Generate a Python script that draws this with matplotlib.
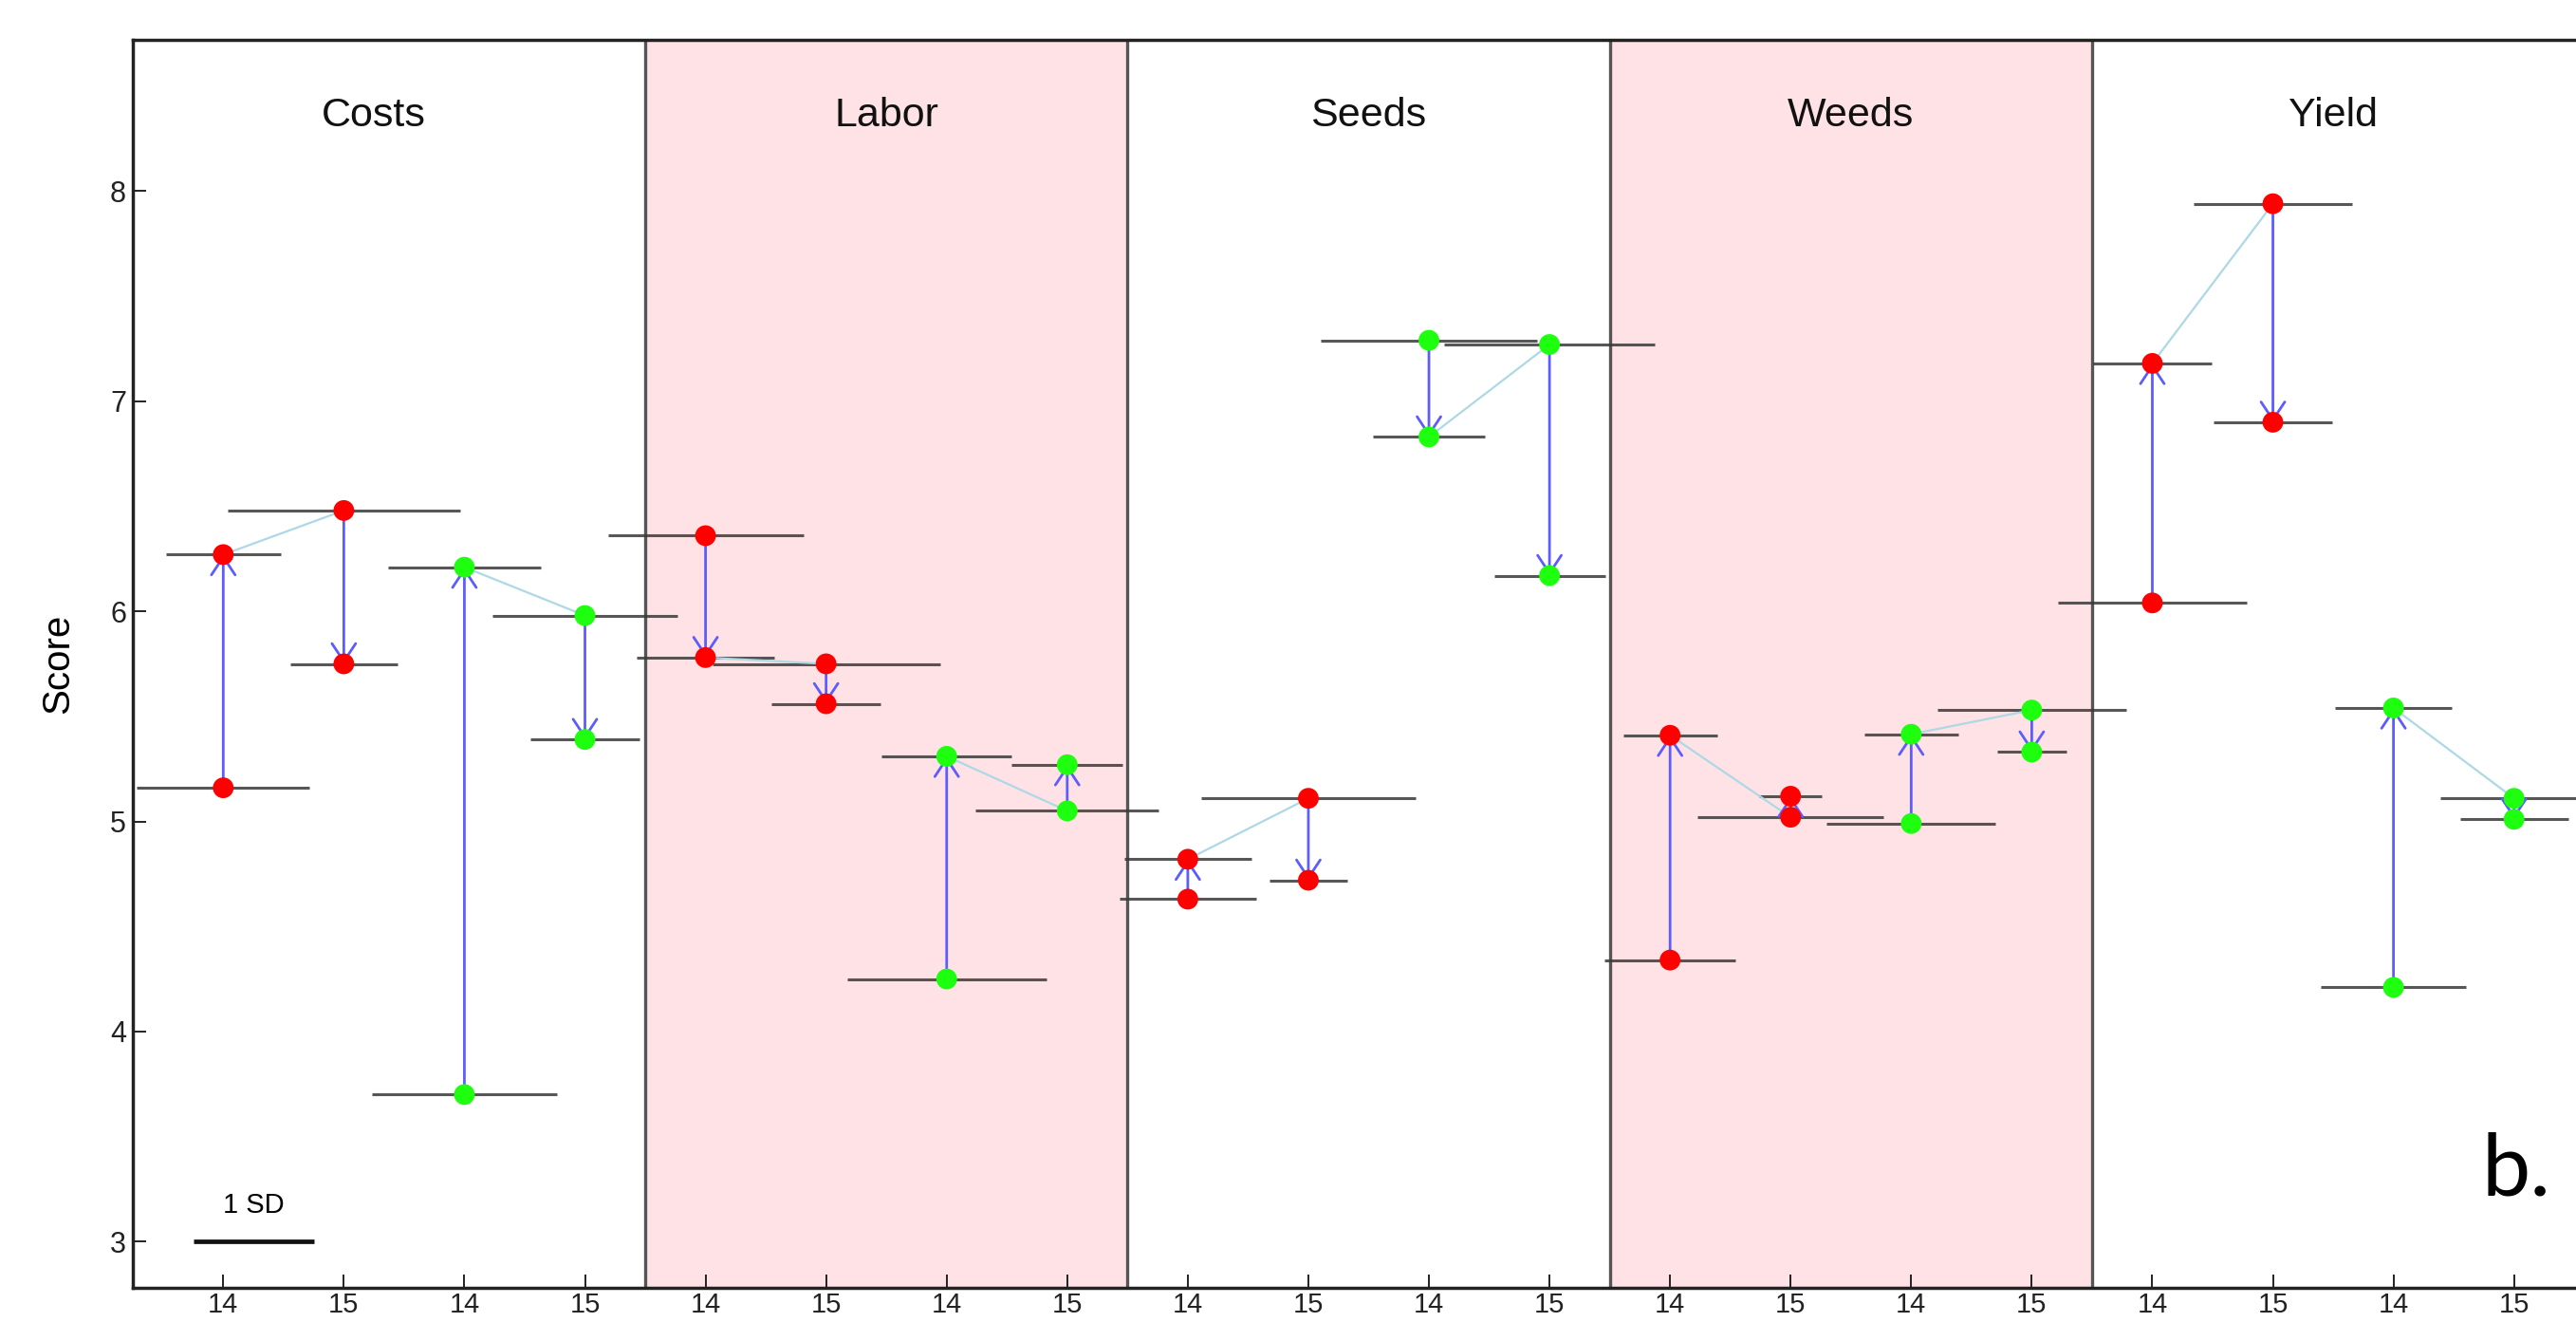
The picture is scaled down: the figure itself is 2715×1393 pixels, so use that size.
import matplotlib
matplotlib.use("Agg")
import matplotlib.pyplot as plt
import numpy as np
from matplotlib.patches import FancyArrowPatch

plt.rcParams['font.family'] = ['Liberation Sans', 'DejaVu Sans']

# ---------------- data ----------------
panels = ['Costs', 'Labor', 'Seeds', 'Weeds', 'Yield']
tick_labels = ['14', '15', '14', '15'] * 5
point_colors = ['red', 'red', 'green', 'green'] * 5

start_score = [5.16, 6.48, 3.70, 5.98,
               6.36, 5.75, 4.25, 5.05,
               4.63, 5.11, 7.29, 7.27,
               4.34, 5.02, 4.99, 5.53,
               6.04, 7.94, 4.21, 5.11]
end_score = [6.27, 5.75, 6.21, 5.39,
             5.78, 5.56, 5.31, 5.27,
             4.82, 4.72, 6.83, 6.17,
             5.41, 5.12, 5.415, 5.33,
             7.18, 6.90, 5.54, 5.01]
start_sd = [1.43, 1.93, 1.54, 1.54,
            1.62, 1.89, 1.65, 1.52,
            1.13, 1.78, 1.79, 1.75,
            1.09, 1.54, 1.40, 1.56,
            1.57, 1.31, 1.20, 1.23]
end_sd = [0.95, 0.89, 1.27, 0.90,
          1.14, 0.90, 1.08, 0.92,
          1.05, 0.65, 0.93, 0.92,
          0.78, 0.52, 0.78, 0.58,
          0.99, 0.98, 0.97, 0.90]
sd_reference = 1.0

# ---------------- style ----------------
RED = '#ff0000'
GREEN = '#1eff0f'
ARROW = '#5c5cff'
LIGHT = '#add8e6'
SDCOL = '#3a3a3a'
PINK = '#ffe2e5'

W, H, DPI = 2715, 1393, 200
fig = plt.figure(figsize=(W / DPI, H / DPI), dpi=DPI)
ax = fig.add_axes([140 / W, 1 - 1357 / H, (2745 - 140) / W, (1357 - 42) / H])

n = len(start_score)
x = np.arange(1, n + 1)
ax.set_xlim(0.25, 20.75)
ax.set_ylim(2.78, 8.72)

# panel shading and dividers
npan = len(panels)
for p in range(npan):
    lo, hi = 4 * p + 0.5, 4 * p + 4.5
    if p % 2 == 1:
        ax.axvspan(lo, hi, color=PINK, zorder=0, lw=0)
    if p > 0:
        ax.axvline(lo, color='#555555', lw=1.2, zorder=1)

title_x = [2.25, 6.5, 10.5, 14.5, 18.5]
for p, name in enumerate(panels):
    ax.text(title_x[p], 8.31, name, ha='center', va='baseline', fontsize=15.5,
            color='#111111')

cols = [RED if c == 'red' else GREEN for c in point_colors]
s_arr = np.array(start_score)
e_arr = np.array(end_score)
ssd = np.array(start_sd)
esd = np.array(end_sd)

# SD bars
ax.hlines(s_arr, x - ssd / 2, x + ssd / 2, color=SDCOL, lw=1.1, alpha=0.85, zorder=2)
ax.hlines(e_arr, x - esd / 2, x + esd / 2, color=SDCOL, lw=1.1, alpha=0.85, zorder=2)

# light connecting lines (end of year 14 -> start of year 15)
for i in range(0, n, 2):
    ax.plot([x[i], x[i + 1]], [e_arr[i], s_arr[i + 1]], color=LIGHT, lw=0.8, zorder=3)

# arrows
for i in range(n):
    arr = FancyArrowPatch((x[i], s_arr[i]), (x[i], e_arr[i]),
                          arrowstyle='->,head_length=0.68,head_width=0.45',
                          mutation_scale=10, color=ARROW, lw=1.0,
                          shrinkA=0, shrinkB=0, zorder=4)
    ax.add_patch(arr)

# points
ax.scatter(x, s_arr, s=62, c=cols, edgecolors='none', zorder=5)
ax.scatter(x, e_arr, s=62, c=cols, edgecolors='none', zorder=5)

# 1 SD reference bar
ax.plot([0.75, 0.75 + sd_reference], [3, 3], color='#111111', lw=1.7,
        solid_capstyle='butt', zorder=3)
ax.text(0.75 + sd_reference / 2, 3.135, '1 SD', ha='center', va='baseline', fontsize=10.5)

# axes styling
ax.set_xticks(x)
ax.set_xticklabels(tick_labels)
ax.set_yticks([3, 4, 5, 6, 7, 8])
ax.tick_params(axis='both', direction='in', length=5, width=0.7, colors='#222222',
               labelsize=11)
ax.tick_params(axis='x', pad=1.5, labelsize=10.5)
ax.tick_params(axis='y', pad=2.5)
for sp in ax.spines.values():
    sp.set_linewidth(1.25)
    sp.set_color('#222222')

ax.set_ylabel('Score', fontsize=14.5, va='center')
ax.yaxis.set_label_coords(-0.0303, 0.5)

fig.text(2615 / W, 1 - 1259 / H, 'b.', fontsize=33, family=['Lato', 'DejaVu Sans'],
         ha='left', va='baseline', color='black')

fig.savefig('out.png', dpi=DPI)
